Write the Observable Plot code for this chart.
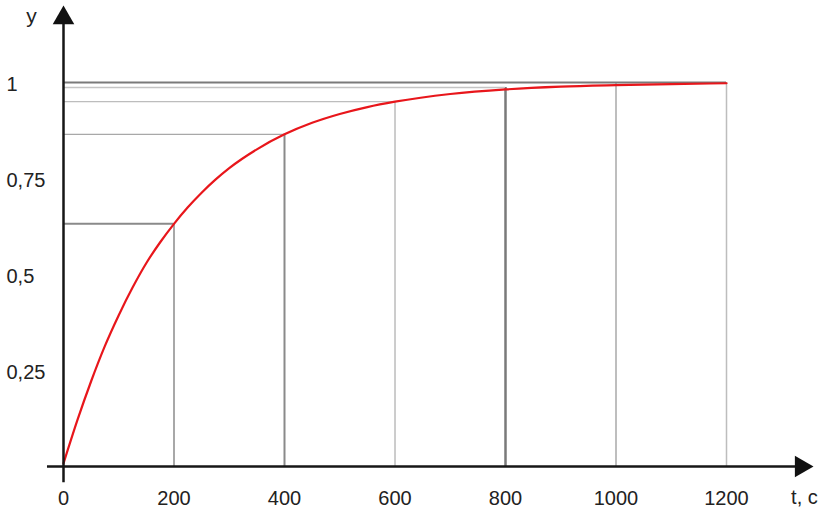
<!DOCTYPE html>
<html>
<head>
<meta charset="utf-8">
<script src="https://cdn.jsdelivr.net/npm/d3@7"></script>
<script src="https://cdn.jsdelivr.net/npm/@observablehq/plot@0.6"></script>
<style>
  html, body { margin: 0; padding: 0; background: #fff; }
  #chart svg { display: block; }
</style>
</head>
<body>
<div id="chart"></div>
<script>
// Curve readings (t in seconds, y)
const curveT = [0, 25, 50, 75, 100, 125, 150, 175, 200, 225, 250, 275, 300, 350, 400, 450, 500, 550, 600, 700, 800, 900, 1000, 1100, 1200];
const curveY = [0.008, 0.12, 0.222, 0.314, 0.394, 0.466, 0.53, 0.584, 0.632, 0.675, 0.713, 0.747, 0.777, 0.826, 0.865, 0.895, 0.918, 0.936, 0.95, 0.97, 0.982, 0.989, 0.993, 0.996, 0.998];

// Reference (guide) lines
const guideT = [200, 400, 600, 800, 1000, 1200];
const guideY = [0.632, 0.865, 0.95, 0.987, 0.998, 1.0];
const levelY = [0.632, 0.865, 0.95, 0.987, 1.0];
const levelT = [200, 400, 600, 800, 1200];

// Tick labels
const xTicks = [0, 200, 400, 600, 800, 1000, 1200];
const yTicks = [0.25, 0.5, 0.75, 1];
const yTickLabels = ["0,25", "0,5", "0,75", "1"];
const xLabel = "t, c";
const yLabel = "y";

const curve = curveT.map((t, i) => ({t, y: curveY[i]}));
const verticals = guideT.map((t, i) => ({t, y: guideY[i]}));
const levels = levelY.map((y, i) => ({y, t: levelT[i]}));

const vStroke = ["#a8a8a8", "#8a8a8a", "#9a9a9a", "#7a7a7a", "#a8a8a8", "#bdbdbd"];
const vWidth = [2, 2, 1, 2.5, 1.5, 1.5];
const hStroke = ["#8a8a8a", "#a8a8a8", "#bdbdbd", "#c4c4c4", "#7a7a7a"];
const hWidth = [2, 1.2, 1.2, 1.5, 2];

const font = "'Liberation Sans', Arial, sans-serif";

const chart = Plot.plot({
  width: 822,
  height: 516,
  marginLeft: 63,
  marginRight: 96,
  marginTop: 82,
  marginBottom: 50,
  style: {fontFamily: font, background: "#fff", overflow: "visible"},
  x: {domain: [0, 1200], axis: null},
  y: {domain: [0, 1], axis: null},
  marks: [
    // vertical guide lines
    Plot.ruleX(verticals, {x: "t", y1: 0, y2: "y", stroke: (d, i) => vStroke[i], strokeWidth: (d, i) => vWidth[i]}),
    // horizontal guide lines
    Plot.ruleY(levels, {y: "y", x1: 0, x2: "t", stroke: (d, i) => hStroke[i], strokeWidth: (d, i) => hWidth[i]}),
    // curve
    Plot.line(curve, {x: "t", y: "y", stroke: "#e8161b", strokeWidth: 2.2, curve: "monotone-x"}),
    // axes lines
    Plot.ruleY([0], {x1: -29, x2: 1330, stroke: "#161616", strokeWidth: 2.5}),
    Plot.ruleX([0], {y1: -0.042, y2: 1.16, stroke: "#161616", strokeWidth: 2.5}),
    // arrow heads
    Plot.dot([0], {x: 0, y: 1.168, symbol: "triangle", r: 8, fill: "#111", stroke: "none"}),
    Plot.dot([0], {x: 1335, y: 0, symbol: "triangle", r: 8, fill: "#111", stroke: "none", rotate: 90}),
    // x tick labels
    Plot.axisX(xTicks, {tickSize: 0, tickPadding: 24, fontSize: 20, fill: "#222", label: null, tickFormat: d => String(d)}),
    // y tick labels
    Plot.text(yTicks, {y: d => d, frameAnchor: "left", dx: -57, dy: 2, text: (d, i) => yTickLabels[i], textAnchor: "start", fontSize: 20, fill: "#222"}),
    // axis names
    Plot.text([yLabel], {x: 0, y: 1.168, dx: -32, dy: -2, text: d => d, fontSize: 21, fill: "#222"}),
    Plot.text([xLabel], {x: 1341, y: 0, dy: 31, text: d => d, fontSize: 20, fill: "#222"}),
  ]
});

document.getElementById("chart").append(chart);
</script>
</body>
</html>
